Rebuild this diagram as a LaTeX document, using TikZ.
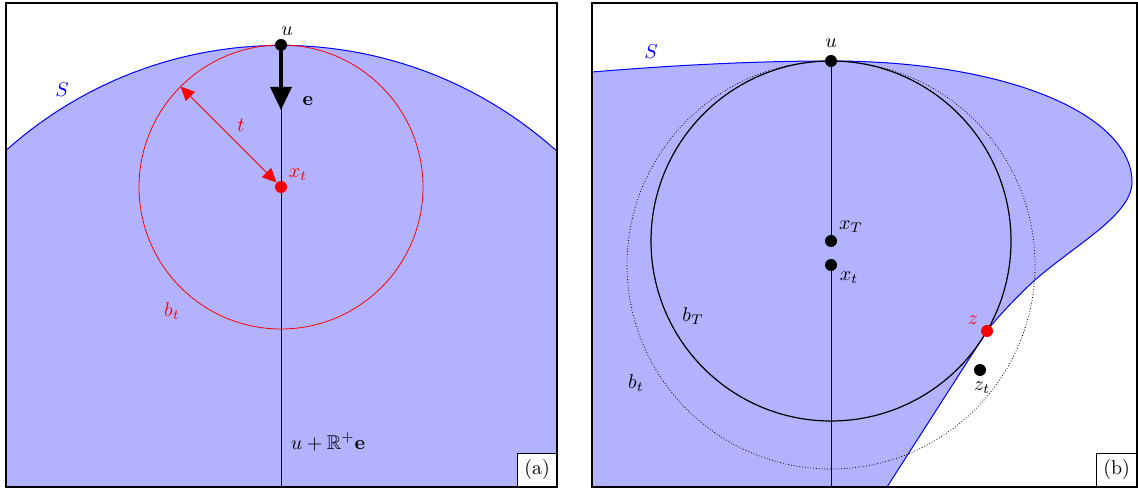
\documentclass[tikz,border=0pt]{standalone}
\usepackage{amsmath}
\usepackage{amssymb}
\usepackage{xcolor}
\usepackage{tikz}
\usetikzlibrary{positioning, arrows.meta}
\colorlet{setfill}{blue!30}

\begin{document}
\begin{tikzpicture}[
  x=0.5pt, y=0.5pt,
  dot/.style={circle, fill, inner sep=0pt, minimum size=6pt},
  frame/.style={draw, line width=1pt},
  tagbox/.style={draw, fill=white, anchor=south east},
  >=Triangle
]
\useasboundingbox (0,0) rectangle (1138,491);

% (a)
\begin{scope}
  \clip (6,4) rectangle (557,488);
  \fill[setfill] (281,33) circle [radius=206.3pt];
  \draw[blue, line width=0.5pt] (281,33) circle [radius=206.3pt];
\end{scope}
\coordinate (ca) at (281,304);
\coordinate (ea) at (281,381);
\coordinate (enda) at (281,4);
\coordinate (ta) at (180.6,404.4);
\draw[red] (ca) circle [radius=71pt];
\node[dot] (ua) at (281,446) {};
\node[dot, red] (xta) at (ca) {};
\draw (ua) -- (enda);
\draw[line width=1.6pt, -{Triangle[length=11.5pt,width=10.5pt]}] (ua) -- (ea);
\draw[red, {Triangle[length=7pt,width=6.5pt]}-{Triangle[length=7pt,width=6.5pt]}] (ta) -- (xta);
\node[above=-2pt of ua, xshift=3pt] (ula) {$u$};
\node[blue] (sa) at (62,401) {$S$};
\node (ela) at (308,390) {$\mathbf{e}$};
\node[red] (tla) at (241,366) {$t$};
\node[red] (xtla) at (298,316) {$x_t$};
\node[red] (btla) at (172,180) {$b_t$};
\node (raya) at (328,49) {$u+\mathbb{R}^+\mathbf{e}$};
\draw[frame] (6,4) rectangle (557,488);
\node[tagbox] (taga) at (557,4) {(a)};

% (b)
\begin{scope}
  \clip (592,4) rectangle (1137,488);
  \fill[setfill] (592,419) .. controls (700,428) and (780,430) .. (831,430)
    .. controls (1010,430) and (1132,375) .. (1132,309)
    .. controls (1132,276) and (1076,247) .. (1035,211)
    .. controls (1020,197.8) and (992.4,168.4) .. (987,160)
    -- (887,4) -- (592,4) -- cycle;
  \draw[blue, line width=0.5pt] (592,419) .. controls (700,428) and (780,430) .. (831,430)
    .. controls (1010,430) and (1132,375) .. (1132,309)
    .. controls (1132,276) and (1076,247) .. (1035,211)
    .. controls (1020,197.8) and (992.4,168.4) .. (987,160)
    -- (887,4);
\end{scope}
\coordinate (cT) at (831,250);
\coordinate (ct) at (831,226);
\coordinate (endb) at (831,4);
\draw[densely dotted] (ct) circle [radius=102pt];
\draw[line width=0.6pt] (cT) circle [radius=90pt];
\draw (ct) -- (endb);
\node[dot] (ub) at (831,430) {};
\draw (ub) -- (cT);
\node[dot] (xTb) at (cT) {};
\node[dot] (xtb) at (ct) {};
\node[dot, red] (zb) at (987,160) {};
\node[dot] (ztb) at (980,121) {};
\node[above=0pt of ub] (ulb) {$u$};
\node[blue] (sb) at (651,439) {$S$};
\node (xTlb) at (851,264) {$x_T$};
\node (xtlb) at (849,213) {$x_t$};
\node[red] (zlb) at (973,171) {$z$};
\node (ztlb) at (982,103) {$z_t$};
\node (bTlb) at (693,175) {$b_T$};
\node (btlb) at (636,108) {$b_t$};
\draw[frame] (592,4) rectangle (1137,488);
\node[tagbox] (tagb) at (1137,4) {(b)};
\end{tikzpicture}
\end{document}
